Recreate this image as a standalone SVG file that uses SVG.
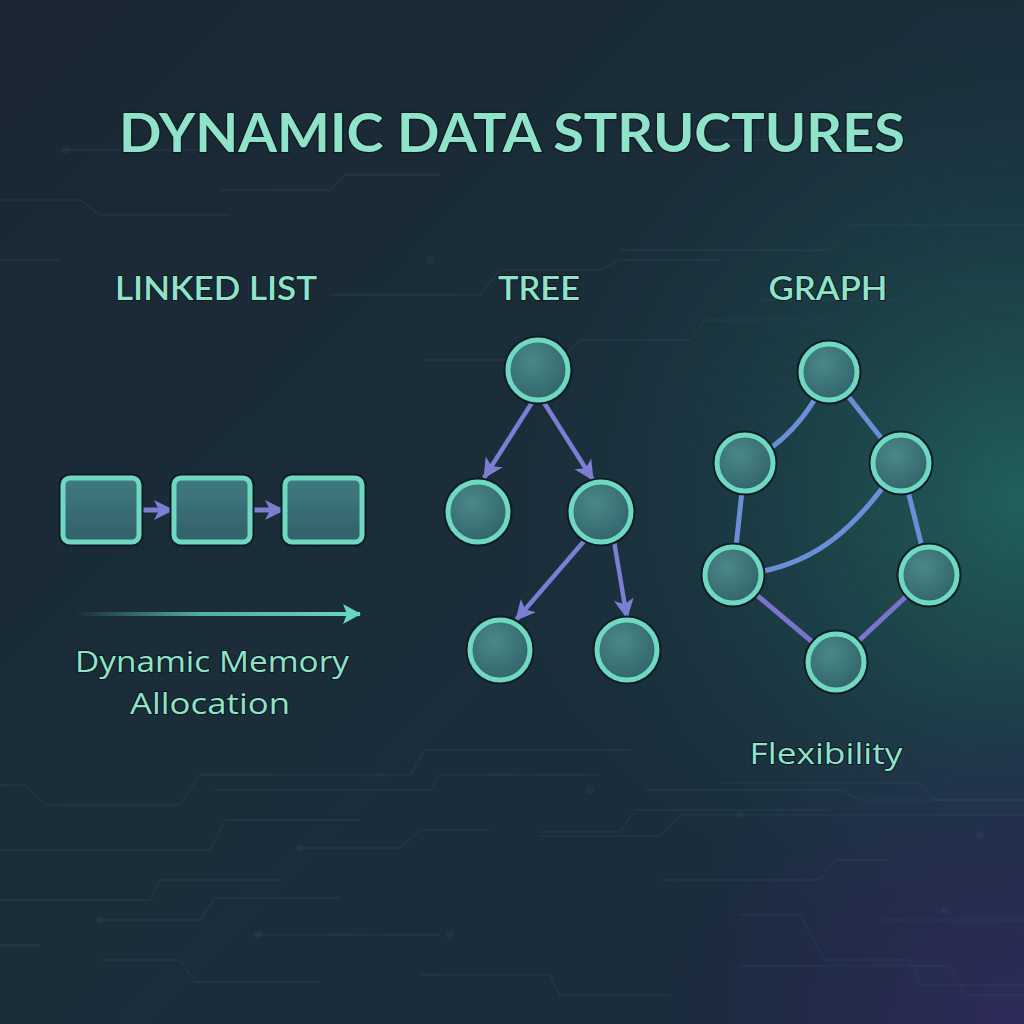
<svg xmlns="http://www.w3.org/2000/svg" width="1024" height="1024" viewBox="0 0 1024 1024">
<defs>
<linearGradient id="bg" x1="0" y1="0" x2="1" y2="1">
<stop offset="0" stop-color="#1a2733"/>
<stop offset="0.5" stop-color="#1a2e3a"/>
<stop offset="1" stop-color="#1b2a3e"/>
</linearGradient>
<radialGradient id="glowTeal" cx="1024" cy="500" r="520" gradientUnits="userSpaceOnUse">
<stop offset="0" stop-color="#21645c" stop-opacity="0.95"/>
<stop offset="0.5" stop-color="#1d4d4f" stop-opacity="0.5"/>
<stop offset="1" stop-color="#1a3540" stop-opacity="0"/>
</radialGradient>
<radialGradient id="glowPurple" cx="1024" cy="1024" r="360" gradientUnits="userSpaceOnUse">
<stop offset="0" stop-color="#2f2b5c" stop-opacity="0.95"/>
<stop offset="1" stop-color="#2a2a55" stop-opacity="0"/>
</radialGradient>
<radialGradient id="nodeFill" cx="0.4" cy="0.35" r="0.75">
<stop offset="0" stop-color="#4a8888"/>
<stop offset="1" stop-color="#2f6169"/>
</radialGradient>
<linearGradient id="boxFill" x1="0" y1="0" x2="0" y2="1">
<stop offset="0" stop-color="#417a80"/>
<stop offset="1" stop-color="#31606a"/>
</linearGradient>
<linearGradient id="memArrow" x1="75" y1="0" x2="355" y2="0" gradientUnits="userSpaceOnUse">
<stop offset="0" stop-color="#5fd0b8" stop-opacity="0"/>
<stop offset="0.45" stop-color="#5fd0b8" stop-opacity="0.8"/>
<stop offset="1" stop-color="#6ad6bf"/>
</linearGradient>
<marker id="purpleHead" markerUnits="userSpaceOnUse" markerWidth="22" markerHeight="22" refX="19" refY="11" orient="auto" viewBox="0 0 22 22">
<path d="M0,1 L20,11 L0,21 L5,11 Z" fill="#7b7ed2"/>
</marker>
<marker id="tealHead" markerUnits="userSpaceOnUse" markerWidth="20" markerHeight="22" refX="18" refY="11" orient="auto" viewBox="0 0 20 22">
<path d="M1,1 L19,11 L1,21 L5,11 Z" fill="#6ad6bf"/>
</marker>
</defs>
<style>
.circuit{fill:none;stroke:#2c4a56;stroke-width:2;opacity:0.3}
.dot{fill:#2c4a56;opacity:0.3}
.title{font-family:"Lato","Liberation Sans",sans-serif;font-weight:700;fill:#8fe3c9;stroke:#0e1a22;stroke-width:2.5;paint-order:stroke;text-anchor:middle}
.head{font-family:"Lato","Liberation Sans",sans-serif;font-weight:600;font-size:32px;fill:#8fe3c9;stroke:#0e1a22;stroke-width:2;paint-order:stroke;text-anchor:middle}
.note{font-family:"Open Sans","Liberation Sans",sans-serif;font-size:30px;fill:#8fe3c9;stroke:#0e1a22;stroke-width:2;paint-order:stroke;text-anchor:middle}
.box{fill:url(#boxFill);stroke:#6fd8c1;stroke-width:5}
.boxOut{fill:none;stroke:#0f1c24;stroke-width:9}
.node{fill:url(#nodeFill);stroke:#6fd8c1;stroke-width:5}
.nodeOut{fill:none;stroke:#0f1c24;stroke-width:9}
.treeEdge{stroke:#7b7ed2;stroke-width:4.5;fill:none}
.listEdge{stroke:#7b7ed2;stroke-width:5;fill:none}
.gEdge{stroke:#6b8fd6;stroke-width:5;fill:none;stroke-linecap:round}
.gEdgeP{stroke:#7a74cc;stroke-width:5;fill:none;stroke-linecap:round}
</style>
<rect width="1024" height="1024" fill="url(#bg)"/>
<rect width="1024" height="1024" fill="url(#glowTeal)"/>
<rect width="1024" height="1024" fill="url(#glowPurple)"/>
<g id="background-circuits">
<path class="circuit" d="M0,200 H80 L100,215 H230"/>
<path class="circuit" d="M220,190 H330 L345,175 H440"/>
<path class="circuit" d="M330,295 H480 L500,270 H600 L620,260 H720"/>
<path class="circuit" d="M420,360 H560 L580,340 H690 L705,320 H830"/>
<path class="circuit" d="M620,250 H830 L850,225 H1024"/>
<path class="circuit" d="M760,300 H900 L920,285 H1024"/>
<path class="circuit" d="M0,260 H60"/>
<path class="circuit" d="M60,150 H200"/>
<path class="circuit" d="M700,140 H860"/>
<path class="circuit" d="M960,330 H1024"/>
<path class="circuit" d="M960,470 H1024"/>
<path class="circuit" d="M0,785 H25 L45,805 H180 L200,775 H410 L425,750 H630"/>
<path class="circuit" d="M215,790 H430 L440,775 H600"/>
<path class="circuit" d="M0,850 H210 L225,820 H360"/>
<path class="circuit" d="M300,848 H400 L420,830 H490"/>
<path class="circuit" d="M540,832 H620 L635,810 H830"/>
<path class="circuit" d="M645,790 H840 L860,800 H1024"/>
<path class="circuit" d="M660,880 H820 L835,860 H890"/>
<path class="circuit" d="M540,836 H660 L680,815 H1024"/>
<path class="circuit" d="M0,900 H150 L160,880 H280"/>
<path class="circuit" d="M100,920 H200 L215,898 H340"/>
<path class="circuit" d="M0,945 H40"/>
<path class="circuit" d="M100,960 H180 L195,982 H320"/>
<path class="circuit" d="M255,935 H440"/>
<path class="circuit" d="M420,975 H550 L560,995 H670"/>
<path class="circuit" d="M740,915 H800 L825,960 H910 L920,985 H1024"/>
<path class="circuit" d="M740,966 H950 L965,995 H1024"/>
<path class="circuit" d="M720,783 H920 L935,800 H1024"/>
<path class="circuit" d="M880,920 H1024"/>
<circle class="dot" cx="430" cy="260" r="4"/>
<circle class="dot" cx="590" cy="790" r="4"/>
<circle class="dot" cx="300" cy="848" r="4"/>
<circle class="dot" cx="258" cy="935" r="4"/>
<circle class="dot" cx="450" cy="935" r="4"/>
<circle class="dot" cx="740" cy="815" r="4"/>
<circle class="dot" cx="980" cy="835" r="4"/>
<circle class="dot" cx="100" cy="920" r="4"/>
<circle class="dot" cx="945" cy="910" r="4"/>
<circle class="dot" cx="66" cy="150" r="4"/>
</g>
<g id="title">
<text class="title" x="512" y="152" font-size="54" textLength="786" lengthAdjust="spacingAndGlyphs">DYNAMIC DATA STRUCTURES</text>
</g>
<g id="section-labels">
<text class="head" x="216" y="300" textLength="202" lengthAdjust="spacingAndGlyphs">LINKED LIST</text>
<text class="head" x="539" y="300" textLength="82" lengthAdjust="spacingAndGlyphs">TREE</text>
<text class="head" x="828" y="300" textLength="119" lengthAdjust="spacingAndGlyphs">GRAPH</text>
</g>
<g id="connectors">
<line class="listEdge" x1="139" y1="510" x2="173" y2="510" marker-end="url(#purpleHead)"/>
<line class="listEdge" x1="250" y1="510" x2="284" y2="510" marker-end="url(#purpleHead)"/>
<line stroke="url(#memArrow)" stroke-width="4" x1="75" y1="614" x2="360" y2="614" marker-end="url(#tealHead)"/>
<line class="treeEdge" x1="533" y1="401" x2="484" y2="478" marker-end="url(#purpleHead)"/>
<line class="treeEdge" x1="543" y1="401" x2="593" y2="480" marker-end="url(#purpleHead)"/>
<line class="treeEdge" x1="585" y1="540" x2="516" y2="620" marker-end="url(#purpleHead)"/>
<line class="treeEdge" x1="614" y1="541" x2="627" y2="618" marker-end="url(#purpleHead)"/>
<path class="gEdge" d="M829,372 Q800,438 745,463"/>
<line class="gEdge" x1="829" y1="372" x2="901" y2="463"/>
<line class="gEdge" x1="745" y1="463" x2="733" y2="575"/>
<path class="gEdge" d="M901,463 C860,520 820,570 733,575"/>
<line class="gEdge" x1="901" y1="463" x2="929" y2="575"/>
<line class="gEdgeP" x1="733" y1="575" x2="836" y2="662"/>
<line class="gEdgeP" x1="929" y1="575" x2="836" y2="662"/>
</g>
<g id="list-node-1"><rect class="boxOut" x="63" y="478" width="76" height="64" rx="7"/><rect class="box" x="63" y="478" width="76" height="64" rx="7"/></g>
<g id="list-node-2"><rect class="boxOut" x="174" y="478" width="76" height="64" rx="7"/><rect class="box" x="174" y="478" width="76" height="64" rx="7"/></g>
<g id="list-node-3"><rect class="boxOut" x="285" y="478" width="77" height="64" rx="7"/><rect class="box" x="285" y="478" width="77" height="64" rx="7"/></g>
<g id="tree-root"><circle class="nodeOut" cx="538" cy="370" r="30"/><circle class="node" cx="538" cy="370" r="30"/></g>
<g id="tree-left"><circle class="nodeOut" cx="478" cy="512" r="30"/><circle class="node" cx="478" cy="512" r="30"/></g>
<g id="tree-right"><circle class="nodeOut" cx="601" cy="512" r="30"/><circle class="node" cx="601" cy="512" r="30"/></g>
<g id="tree-right-left"><circle class="nodeOut" cx="500" cy="650" r="30"/><circle class="node" cx="500" cy="650" r="30"/></g>
<g id="tree-right-right"><circle class="nodeOut" cx="627" cy="650" r="30"/><circle class="node" cx="627" cy="650" r="30"/></g>
<g id="graph-top"><circle class="nodeOut" cx="829" cy="372" r="28"/><circle class="node" cx="829" cy="372" r="28"/></g>
<g id="graph-upper-left"><circle class="nodeOut" cx="745" cy="463" r="28"/><circle class="node" cx="745" cy="463" r="28"/></g>
<g id="graph-upper-right"><circle class="nodeOut" cx="901" cy="463" r="28"/><circle class="node" cx="901" cy="463" r="28"/></g>
<g id="graph-lower-left"><circle class="nodeOut" cx="733" cy="575" r="28"/><circle class="node" cx="733" cy="575" r="28"/></g>
<g id="graph-lower-right"><circle class="nodeOut" cx="929" cy="575" r="28"/><circle class="node" cx="929" cy="575" r="28"/></g>
<g id="graph-bottom"><circle class="nodeOut" cx="836" cy="662" r="28"/><circle class="node" cx="836" cy="662" r="28"/></g>
<g id="captions">
<text class="note" x="212" y="672" textLength="274" lengthAdjust="spacingAndGlyphs">Dynamic Memory</text>
<text class="note" x="210" y="714" textLength="160" lengthAdjust="spacingAndGlyphs">Allocation</text>
<text class="note" x="826" y="764" textLength="153" lengthAdjust="spacingAndGlyphs">Flexibility</text>
</g>
</svg>
